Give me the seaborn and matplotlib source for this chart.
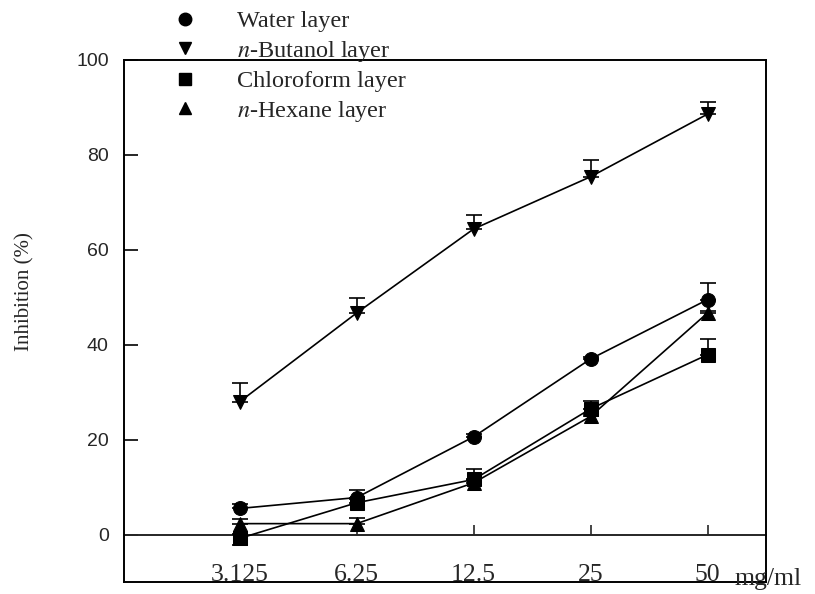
import numpy as np
import pandas as pd
import matplotlib
matplotlib.use("Agg")
import matplotlib.pyplot as plt
from matplotlib.lines import Line2D
import seaborn as sns

# Concentrations (mg/ml) and inhibition values (%) for each solvent layer
concentrations = ["3.125", "6.25", "12.5", "25", "50"]
layers = ["Water layer", "$n$-Butanol layer", "Chloroform layer", "$n$-Hexane layer"]

water = [5.5, 7.8, 20.6, 37.0, 49.5]
butanol = [28.0, 46.7, 64.4, 75.4, 88.6]
chloroform = [-0.8, 6.7, 11.6, 26.5, 37.9]
hexane = [2.3, 2.3, 10.9, 24.9, 46.7]

# Standard deviations (upper / lower bars)
water_err_up = [0.9, 1.6, 0.5, 0.4, 3.5]
butanol_err_up = [4.0, 3.1, 3.0, 3.6, 2.6]
chloroform_err_up = [1.0, 0.8, 2.3, 1.7, 3.4]
hexane_err_up = [0.9, 1.1, 0.5, 0.5, 0.5]
chloroform_err_low = [1.5, 0.0, 0.0, 0.0, 0.0]

values = [water, butanol, chloroform, hexane]
errs_up = [water_err_up, butanol_err_up, chloroform_err_up, hexane_err_up]
errs_low = [[0.0] * 5, [0.0] * 5, chloroform_err_low, [0.0] * 5]
marker_map = {layers[0]: "o", layers[1]: "v", layers[2]: "s", layers[3]: "^"}

pos = np.arange(len(concentrations))
df = pd.DataFrame({
    "pos": np.tile(pos, len(layers)),
    "inhibition": np.concatenate(values),
    "layer": np.repeat(layers, len(concentrations)),
})

sns.set_style("white")
plt.rcParams["font.family"] = ["Liberation Serif", "DejaVu Serif"]
plt.rcParams["mathtext.fontset"] = "stix"

fig = plt.figure(figsize=(8.15, 5.94), dpi=100)
ax = fig.add_axes([124 / 815, 1 - 582 / 594, 642 / 815, 522 / 594])

sns.lineplot(data=df, x="pos", y="inhibition", style="layer", markers=marker_map,
             dashes=False, color="black", markersize=10, linewidth=1.2,
             markeredgecolor="black", legend=False, ax=ax, zorder=3)

for vals, up, low in zip(values, errs_up, errs_low):
    ax.errorbar(pos, vals, yerr=[low, up], fmt="none", ecolor="black",
                elinewidth=1.2, capsize=6, capthick=1.2, zorder=2)

ax.set_xlim(-0.99, 4.5)
ax.set_ylim(-10, 100)

for sp in ax.spines.values():
    sp.set_visible(True)
    sp.set_color("black")
    sp.set_linewidth(1.4)

# y axis: inward ticks, sans-serif numbers
ax.set_yticks([0, 20, 40, 60, 80, 100])
ax.tick_params(axis="y", direction="in", length=10, width=1.4, pad=11,
               labelsize=14, left=True, right=False)
for lab in ax.get_yticklabels():
    lab.set_family(["Liberation Sans", "DejaVu Sans"])

# x labels sit on the bottom frame line
ax.set_xticks(pos)
ax.set_xticklabels(concentrations)
ax.tick_params(axis="x", length=0, pad=-13, labelsize=18.5, bottom=True)
ax.set_xlabel("")
ax.set_ylabel("")

# zero line carries the concentration ticks
zero_axis = ax.secondary_xaxis(10 / 110)
zero_axis.set_xticks(pos)
zero_axis.tick_params(axis="x", direction="in", length=7, width=1.2,
                      labelbottom=False)
zero_axis.spines["bottom"].set_linewidth(1.4)

ax.text(4.23, -10.6, "mg/ml", fontsize=18.5, ha="left", va="baseline",
        clip_on=False, transform=ax.transData)

fig.text(25 / 815, 1 - 292 / 594, "Inhibition (%)", rotation=90,
         ha="center", va="center", fontsize=15)

handles = [Line2D([], [], marker=marker_map[l], color="black", linestyle="none",
                  markersize=9) for l in layers]
fig.legend(handles, layers, loc="upper left", bbox_to_anchor=(173 / 815, 1 - 10 / 594),
           frameon=False, fontsize=17.5, handlelength=1.0, handletextpad=1.65,
           labelspacing=0.27, borderpad=0, borderaxespad=0)

fig.savefig("out.png", dpi=100, facecolor="white")
